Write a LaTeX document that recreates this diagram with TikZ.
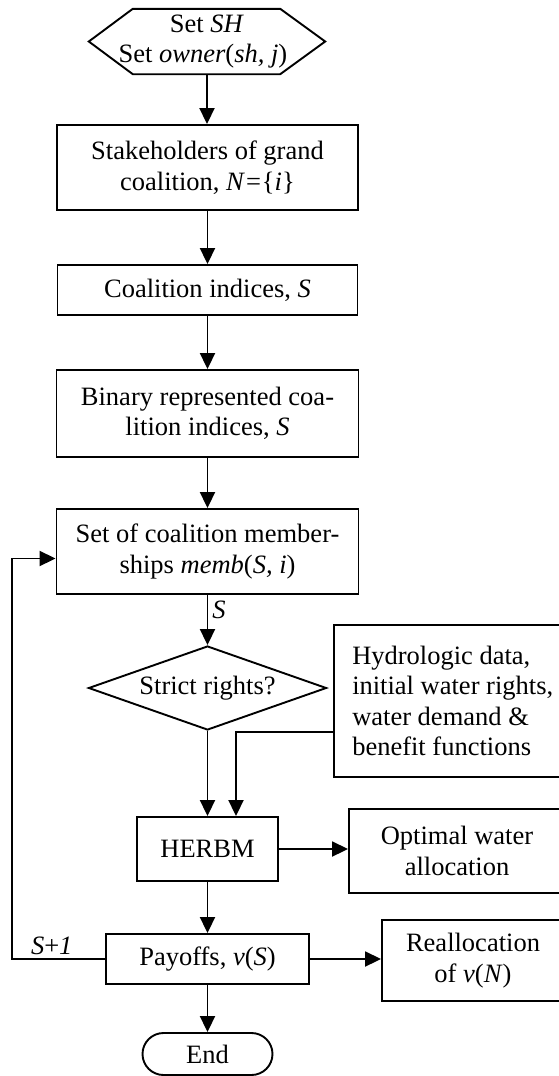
\documentclass[tikz,border=0pt]{standalone}
\usepackage{fontspec}
\setmainfont{Liberation Serif}
\usetikzlibrary{arrows.meta,shapes.geometric,calc}

\begin{document}
\begin{tikzpicture}[x=1pt,y=-1pt,
  every node/.style={font=\fontsize{26.5}{30.5}\selectfont},
  box/.style={draw, line width=1.9pt, inner sep=0pt, align=center},
  arr/.style={line width=1.9pt, -{Triangle[length=16pt,width=15pt]}},
  outline/.style={line width=1.9pt, line join=miter},
]
\useasboundingbox (0,0) rectangle (559,1076);
\clip (0,0) rectangle (559,1076);

% preparation step (hexagon)
\node[inner sep=0pt, minimum width=236pt, minimum height=65pt, align=center] (start) at (207,41.5)
  {Set \textit{SH}\\Set \textit{owner}(\textit{sh, j})\hspace*{8pt}};
\draw[outline] (start.west) -- ($(start.north west)+(44,0)$) -- ($(start.north east)+(-45,0)$)
  -- (start.east) -- ($(start.south east)+(-45,0)$) -- ($(start.south west)+(44,0)$) -- cycle;

% main column
\node[box, minimum width=301pt, minimum height=85pt] (b1) at (207.5,167.5)
  {Stakeholders of grand\\coalition, \textit{N}\kern1pt=\kern1pt\{\textit{i}\}};
\node[box, minimum width=300pt, minimum height=50pt] (b2) at (207.5,290)
  {Coalition indices, \textit{S}};
\node[box, minimum width=302pt, minimum height=87pt] (b3) at (207.5,413.5)
  {Binary represented coa-\\lition indices, \textit{S}};
\node[box, minimum width=302pt, minimum height=85pt] (b4) at (207.5,551.5)
  {Set of coalition member-\\ships \textit{memb}(\textit{S, i})};
\node[draw, diamond, aspect=2.83, line width=1.9pt, inner sep=0pt,
      minimum width=238pt, minimum height=84pt] (dia) at (207.5,688) {Strict rights?};
\node[box, minimum width=141pt, minimum height=64pt] (herbm) at (207.5,849) {HERBM};
\node[box, minimum width=203pt, minimum height=50pt] (pay) at (207.5,959)
  {Payoffs, \textit{v}(\textit{S})};
\node[draw, line width=1.9pt, rounded corners=21pt, inner sep=0pt,
      minimum width=130pt, minimum height=42pt] (end) at (207.5,1054) {End};

% side column
\node[box, minimum width=231pt, minimum height=152pt] (hyd) at (449.5,701) {};
\node[anchor=west, align=left, inner sep=0pt] (hydtxt) at ($(hyd.west)+(19,0)$)
  {Hydrologic data,\\initial water rights,\\water demand \&\\benefit functions};
\node[box, minimum width=216pt, minimum height=84pt] (opt) at (457,851)
  {Optimal water\\allocation};
\node[box, minimum width=182pt, minimum height=81pt] (real) at (473,960.5)
  {Reallocation\\of \textit{v}(\textit{N})};

% connectors
\draw[arr] (start.south) -- (start.south |- b1.north);
\draw[arr] (b1) -- (b2);
\draw[arr] (b2) -- (b3);
\draw[arr] (b3) -- (b4);
\draw[arr] (b4) -- node[pos=0.3, right, inner sep=4pt] {\textit{S}} (dia);
\draw[arr] (dia.south) -- (dia.south |- herbm.north);
\draw[arr] ($(hyd.north west)+(0,108)$) -| ($(herbm.north)+(28.5,0)$);
\draw[arr] (herbm.east) -- (herbm.east -| opt.west);
\draw[arr] (herbm) -- (pay);
\draw[arr] (pay.east) -- (pay.east -| real.west);
\draw[arr] (pay) -- (end);
\draw[arr] (pay.west) -- ($(pay.west)+(-93.5,0)$)
  node[pos=0.57, above, inner sep=3pt] {\textit{S}+\textit{1}}
  |- ($(b4.west)+(0,7)$);
\end{tikzpicture}
\end{document}
